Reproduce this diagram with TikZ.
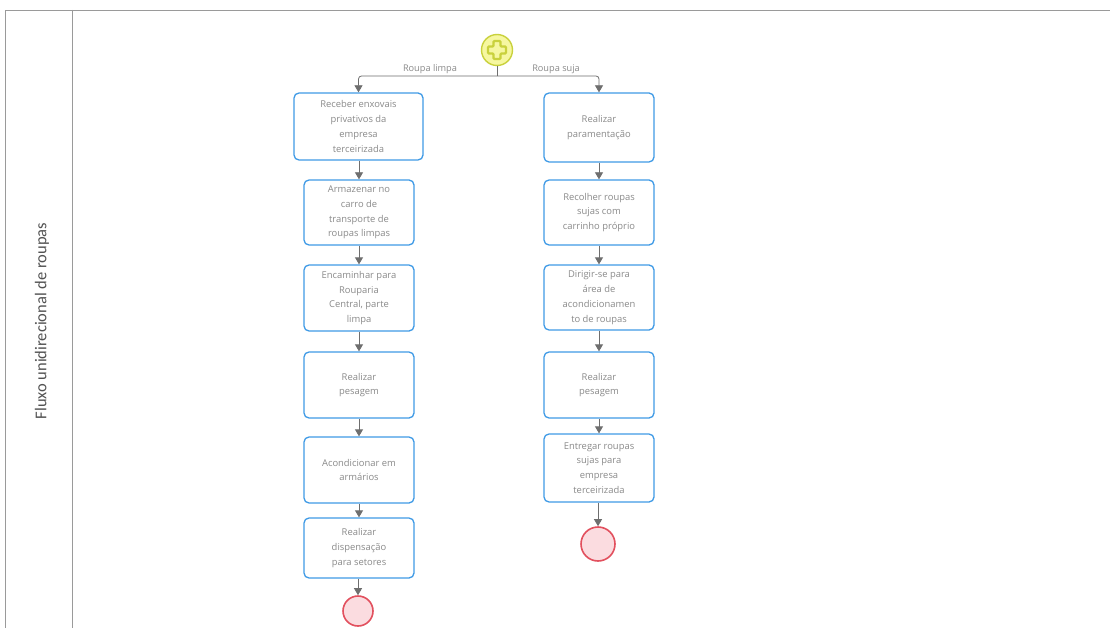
\documentclass[tikz,border=0pt]{standalone}
\usepackage{fontspec}
\setmainfont{Open Sans}
\newfontfamily\lanefont{Carlito}
\usetikzlibrary{arrows.meta,positioning}
\definecolor{taskblue}{HTML}{3F9AE6}
\definecolor{tasktext}{HTML}{8A8A8A}
\definecolor{flowgray}{HTML}{6E6E6E}
\definecolor{lanegray}{HTML}{9A9A9A}
\definecolor{endred}{HTML}{E2505E}
\definecolor{endfill}{HTML}{FBDCE0}
\definecolor{startline}{HTML}{C9D13C}
\definecolor{startfill}{HTML}{F6F7A0}
\tikzset{
  task/.style={draw=taskblue, line width=1.3pt, fill=white, rounded corners=5pt,
    inner sep=0pt, align=center, text=tasktext, font=\fontsize{9.4}{14.8}\selectfont,
    minimum width=110pt},
  endev/.style={circle, draw=endred, line width=1.6pt, fill=endfill, inner sep=0pt},
  startev/.style={circle, draw=startline, line width=1.4pt, fill=startfill, inner sep=0pt,
    minimum size=31pt},
  flow/.style={draw=flowgray, line width=0.8pt, -{Triangle[length=7pt,width=8pt]}},
  flowlabel/.style={text=tasktext, font=\fontsize{9.2}{10}\selectfont, inner sep=1pt},
  lane/.style={draw=lanegray, line width=0.8pt}
}
\begin{document}
\begin{tikzpicture}[x=1pt,y=-1pt]
\useasboundingbox (0,0) rectangle (1110,628);
\fill[white] (0,0) rectangle (1110,628);

% pool and lane borders
\draw[lane] (1110,10) -- (5,10) -- (5,628);
\draw[lane] (72,10) -- (72,628);
\node[rotate=90, text=black!68, font=\lanefont\fontsize{16.5}{18}\selectfont] (lanename) at (42,321) {Fluxo unidirecional de roupas};

% start event (parallel)
\node[startev] (start) at (497,50) {};
\draw[startline, line width=2.2pt, fill=startfill, rounded corners=1pt]
  (493.5,41) -- (500.5,41) -- (500.5,46.5) -- (506,46.5) -- (506,53.5) -- (500.5,53.5) -- (500.5,59)
  -- (493.5,59) -- (493.5,53.5) -- (488,53.5) -- (488,46.5) -- (493.5,46.5) -- cycle;

% clean laundry column
\node[task, minimum width=129pt, minimum height=67pt] (l1) at (358.5,126.5) {Receber enxovais\\privativos da\\empresa\\terceirizada};
\node[task, minimum height=65pt] (l2) at (359,212.5) {Armazenar no\\carro de\\transporte de\\roupas limpas};
\node[task, minimum height=66pt] (l3) at (359,298) {Encaminhar para\\Rouparia\\Central, parte\\limpa};
\node[task, minimum height=66pt] (l4) at (359,385) {Realizar\\pesagem};
\node[task, minimum height=66pt] (l5) at (359,470) {Acondicionar em\\armários};
\node[task, minimum height=60pt] (l6) at (359,548) {Realizar\\dispensação\\para setores};
\node[endev, minimum size=30pt] (lend) at (358,611) {};

% soiled laundry column
\node[task, minimum height=69pt] (r1) at (599,127.5) {Realizar\\paramentação};
\node[task, minimum height=65pt] (r2) at (599,212.5) {Recolher roupas\\sujas com\\carrinho próprio};
\node[task, minimum height=65pt] (r3) at (599,297.5) {Dirigir-se para\\área de\\acondicionamen\\to de roupas};
\node[task, minimum height=66pt] (r4) at (599,385) {Realizar\\pesagem};
\node[task, minimum height=68pt] (r5) at (599,468) {Entregar roupas\\sujas para\\empresa\\terceirizada};
\node[endev, minimum size=34pt] (rend) at (598,544) {};

% split from the start event
\coordinate (split) at (497,76);
\draw[flowgray, line width=0.8pt] (start.south) -- (split);
\draw[flow, rounded corners=3pt] (split) -| (l1.north);
\draw[flow, rounded corners=3pt] (split) -| (r1.north);
\node[flowlabel] (lbl-limpa) at (430,69) {Roupa limpa};
\node[flowlabel] (lbl-suja) at (556,69) {Roupa suja};

% sequence flows
\draw[flow] (l1.south -| l2.north) -- (l2.north);
\draw[flow] (l2) -- (l3);
\draw[flow] (l3) -- (l4);
\draw[flow] (l4) -- (l5);
\draw[flow] (l5) -- (l6);
\draw[flow] (l6.south -| lend.north) -- (lend.north);
\draw[flow] (r1) -- (r2);
\draw[flow] (r2) -- (r3);
\draw[flow] (r3) -- (r4);
\draw[flow] (r4) -- (r5);
\draw[flow] (r5.south -| rend.north) -- (rend.north);
\end{tikzpicture}
\end{document}
